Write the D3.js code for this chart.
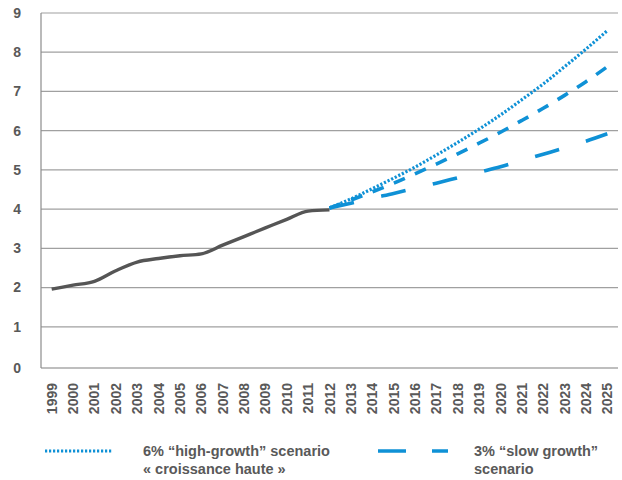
<!DOCTYPE html>
<html>
<head>
<meta charset="utf-8">
<script src="https://cdn.jsdelivr.net/npm/d3@7/dist/d3.min.js"></script>
<style>
  html, body { margin: 0; padding: 0; background: #fff; }
  svg { display: block; font-family: "Liberation Sans", Arial, sans-serif; }
</style>
</head>
<body>
<svg id="chart" width="622" height="480"></svg>
<script>
// Years shown on the horizontal axis
const years = d3.range(1999, 2026).map(String);
const yTicks = [0, 1, 2, 3, 4, 5, 6, 7, 8, 9];

// Historical series, 1999–2012
const histYears = ["1999","2000","2001","2002","2003","2004","2005","2006","2007","2008","2009","2010","2011","2012"];
const histValues = [1.96, 2.06, 2.16, 2.43, 2.65, 2.74, 2.81, 2.86, 3.08, 3.30, 3.52, 3.74, 3.95, 3.98];

// Projections, 2012–2025
const projYears = ["2012","2013","2014","2015","2016","2017","2018","2019","2020","2021","2022","2023","2024","2025"];
const highGrowth = [4.03, 4.26, 4.52, 4.79, 5.07, 5.38, 5.70, 6.04, 6.40, 6.79, 7.19, 7.63, 8.08, 8.55];
const midGrowth  = [4.03, 4.23, 4.44, 4.66, 4.90, 5.15, 5.41, 5.68, 5.96, 6.26, 6.57, 6.90, 7.25, 7.63];
const slowGrowth = [4.03, 4.15, 4.28, 4.40, 4.53, 4.66, 4.80, 4.94, 5.08, 5.24, 5.40, 5.56, 5.73, 5.92];

const legendHigh = ["6% \u201chigh-growth\u201d scenario", "\u00ab croissance haute \u00bb"];
const legendSlow = ["3% \u201cslow growth\u201d", "scenario"];

const svg = d3.select("#chart");
const plotLeft = 41, plotRight = 618, plotTop = 13, plotBottom = 366;
const textColor = "#595959";
const blue = "#0f91d6";

const x = d3.scalePoint().domain(years).range([plotLeft, plotRight]).padding(0.5);
const y = d3.scaleLinear().domain([0, 9]).range([plotBottom, plotTop]);

// Horizontal gridlines
svg.append("g").selectAll("line")
  .data(yTicks.filter(d => d > 0))
  .join("line")
  .attr("x1", plotLeft).attr("x2", plotRight)
  .attr("y1", d => y(d)).attr("y2", d => y(d))
  .attr("stroke", "#a0a0a0").attr("stroke-width", 1.2);

// Baseline and vertical axis
svg.append("line")
  .attr("x1", plotLeft).attr("x2", plotRight)
  .attr("y1", y(0) + 2).attr("y2", y(0) + 2)
  .attr("stroke", "#7f7f7f").attr("stroke-width", 1.2);
svg.append("line")
  .attr("x1", plotLeft).attr("x2", plotLeft)
  .attr("y1", y(9)).attr("y2", y(0) + 2)
  .attr("stroke", "#8c8c8c").attr("stroke-width", 1.2);

// Y tick labels
svg.append("g").selectAll("text")
  .data(yTicks)
  .join("text")
  .attr("x", 21)
  .attr("y", d => (d === 0 ? y(0) + 2 : y(d)))
  .attr("dy", "0.35em")
  .attr("text-anchor", "end")
  .attr("font-size", 14).attr("font-weight", "bold")
  .attr("fill", textColor)
  .text(d => d);

// X tick labels, rotated
svg.append("g").selectAll("text")
  .data(years)
  .join("text")
  .attr("transform", d => `translate(${x(d)},383) rotate(-90)`)
  .attr("dy", "0.36em")
  .attr("text-anchor", "end")
  .attr("font-size", 14).attr("font-weight", "bold")
  .attr("fill", textColor)
  .text(d => d);

const line = d3.line().x(d => x(d[0])).y(d => y(d[1])).curve(d3.curveMonotoneX);

// Historical line
svg.append("path")
  .datum(d3.zip(histYears, histValues))
  .attr("d", line)
  .attr("fill", "none").attr("stroke", "#555555").attr("stroke-width", 3.4);

// Projection lines
svg.append("path")
  .datum(d3.zip(projYears, slowGrowth))
  .attr("d", line)
  .attr("fill", "none").attr("stroke", blue).attr("stroke-width", 3.6)
  .attr("stroke-dasharray", "25,28");
svg.append("path")
  .datum(d3.zip(projYears, midGrowth))
  .attr("d", line)
  .attr("fill", "none").attr("stroke", blue).attr("stroke-width", 3.6)
  .attr("stroke-dasharray", "12,11");
svg.append("path")
  .datum(d3.zip(projYears, highGrowth))
  .attr("d", line)
  .attr("fill", "none").attr("stroke", blue).attr("stroke-width", 3.2)
  .attr("stroke-dasharray", "2.2,1.8");

// Legend
const lg = svg.append("g");
lg.append("line")
  .attr("x1", 45).attr("x2", 112).attr("y1", 451).attr("y2", 451)
  .attr("stroke", blue).attr("stroke-width", 3.2).attr("stroke-dasharray", "2.2,1.8");
lg.append("text")
  .attr("x", 143).attr("y", 456)
  .attr("font-size", 14.5).attr("font-weight", "bold").attr("fill", textColor)
  .selectAll("tspan").data(legendHigh).join("tspan")
  .attr("x", 143).attr("dy", (d, i) => (i ? 18 : 0))
  .text(d => d);

lg.append("line")
  .attr("x1", 378).attr("x2", 448).attr("y1", 451).attr("y2", 451)
  .attr("stroke", blue).attr("stroke-width", 3.6).attr("stroke-dasharray", "28,26");
lg.append("text")
  .attr("x", 474).attr("y", 456)
  .attr("font-size", 14.5).attr("font-weight", "bold").attr("fill", textColor)
  .selectAll("tspan").data(legendSlow).join("tspan")
  .attr("x", 474).attr("dy", (d, i) => (i ? 18 : 0))
  .text(d => d);
</script>
</body>
</html>
